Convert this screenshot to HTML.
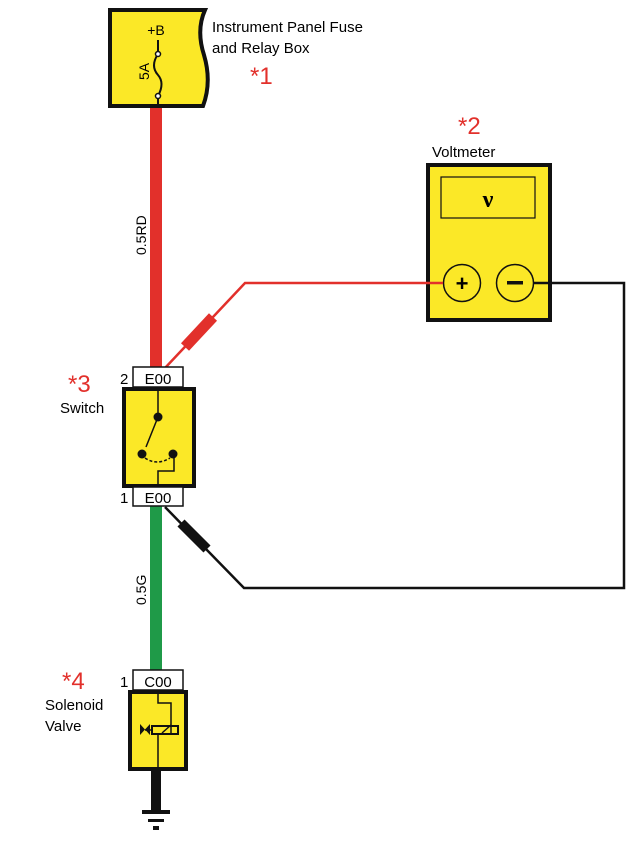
<!DOCTYPE html>
<html><head><style>body{margin:0;background:#fff}svg{display:block}</style></head><body>
<svg width="629" height="845" viewBox="0 0 629 845" font-family="Liberation Sans, Arial, sans-serif">
<!-- wires -->
<rect x="150" y="108" width="12" height="262" fill="#e2302b"/>
<rect x="150" y="505" width="12" height="165" fill="#1f9a48"/>
<rect x="151" y="770" width="10" height="42" fill="#111"/>
<rect x="142" y="810" width="28" height="4" fill="#111"/>
<rect x="148" y="819" width="16" height="3" fill="#111"/>
<rect x="153" y="826" width="6" height="4" fill="#111"/>
<!-- fuse box -->
<path d="M110 10 H205 Q196 30 204 55 Q212 82 203 106 H110 Z" fill="#fbe827" stroke="#111" stroke-width="4"/>
<text x="156" y="35" font-size="14" text-anchor="middle">+B</text>
<line x1="158" y1="40" x2="158" y2="53" stroke="#111" stroke-width="2"/>
<path d="M158 54 Q150 66 158 75 Q165 83 158 96" fill="none" stroke="#111" stroke-width="2"/>
<circle cx="158" cy="54" r="2.5" fill="#fff" stroke="#111" stroke-width="1.5"/>
<circle cx="158" cy="96" r="2.5" fill="#fff" stroke="#111" stroke-width="1.5"/>
<line x1="158" y1="99" x2="158" y2="108" stroke="#111" stroke-width="2"/>
<text transform="translate(149,80) rotate(-90)" font-size="14">5A</text>
<text x="212" y="32" font-size="15">Instrument Panel Fuse</text>
<text x="212" y="53" font-size="15">and Relay Box</text>
<text x="250" y="84" font-size="24" fill="#e2302b">*1</text>
<text transform="translate(146,255) rotate(-90)" font-size="14">0.5RD</text>
<text transform="translate(146,605) rotate(-90)" font-size="14">0.5G</text>
<!-- voltmeter -->
<text x="458" y="134" font-size="24" fill="#e2302b">*2</text>
<text x="432" y="157" font-size="15">Voltmeter</text>
<rect x="428" y="165" width="122" height="155" fill="#fbe827" stroke="#111" stroke-width="4"/>
<rect x="441" y="177" width="94" height="41" fill="none" stroke="#111" stroke-width="1.2"/>
<text x="488" y="207" font-size="24" text-anchor="middle" font-family="Liberation Serif, serif" font-weight="bold">ν</text>
<circle cx="462" cy="283" r="18.5" fill="none" stroke="#111" stroke-width="1.5"/>
<circle cx="515" cy="283" r="18.5" fill="none" stroke="#111" stroke-width="1.5"/>
<text x="462" y="291" font-size="22" font-weight="bold" text-anchor="middle">+</text>
<rect x="507" y="281" width="16" height="3.5" fill="#111"/>
<!-- leads -->
<polyline points="443,283 245,283 165,368" fill="none" stroke="#e2302b" stroke-width="2.5"/>
<line x1="213" y1="317" x2="185" y2="347" stroke="#e2302b" stroke-width="11"/>
<polyline points="534,283 624,283 624,588 244,588 165,507" fill="none" stroke="#111" stroke-width="2.5"/>
<line x1="181" y1="523" x2="207" y2="549" stroke="#111" stroke-width="10"/>
<!-- switch -->
<text x="68" y="392" font-size="24" fill="#e2302b">*3</text>
<text x="60" y="413" font-size="15">Switch</text>
<rect x="133" y="367" width="50" height="20" fill="#fff" stroke="#111" stroke-width="1.5"/>
<text x="158" y="384" font-size="15" text-anchor="middle">E00</text>
<text x="120" y="384" font-size="15">2</text>
<rect x="124" y="389" width="70" height="97" fill="#fbe827" stroke="#111" stroke-width="4"/>
<line x1="158" y1="391" x2="158" y2="417" stroke="#111" stroke-width="1.5"/>
<circle cx="158" cy="417" r="4.5" fill="#111"/>
<line x1="158" y1="417" x2="146" y2="447" stroke="#111" stroke-width="1.5"/>
<circle cx="142" cy="454" r="4.5" fill="#111"/>
<circle cx="173" cy="454" r="4.5" fill="#111"/>
<path d="M145 458 Q157 466 170 458" fill="none" stroke="#111" stroke-width="1.5" stroke-dasharray="3,2"/>
<polyline points="174,454 174,471 158,471 158,486" fill="none" stroke="#111" stroke-width="1.5"/>
<rect x="133" y="487" width="50" height="19" fill="#fff" stroke="#111" stroke-width="1.5"/>
<text x="158" y="503" font-size="15" text-anchor="middle">E00</text>
<text x="120" y="503" font-size="15">1</text>
<!-- solenoid -->
<text x="62" y="689" font-size="24" fill="#e2302b">*4</text>
<text x="45" y="710" font-size="15">Solenoid</text>
<text x="45" y="731" font-size="15">Valve</text>
<rect x="133" y="670" width="50" height="20" fill="#fff" stroke="#111" stroke-width="1.5"/>
<text x="158" y="687" font-size="15" text-anchor="middle">C00</text>
<text x="120" y="687" font-size="15">1</text>
<rect x="130" y="692" width="56" height="77" fill="#fbe827" stroke="#111" stroke-width="4"/>
<polyline points="158,694 158,703 171,703 171,733" fill="none" stroke="#111" stroke-width="1.5"/>
<rect x="152" y="726" width="26" height="8" fill="none" stroke="#111" stroke-width="2"/>
<line x1="162" y1="733" x2="171" y2="725" stroke="#111" stroke-width="1.5"/>
<path d="M140 724 L150 735 L150 724 L140 735 Z" fill="#111"/>
<line x1="145" y1="730" x2="152" y2="730" stroke="#111" stroke-width="1.5"/>
<line x1="158" y1="734" x2="158" y2="767" stroke="#111" stroke-width="1.5"/>
</svg>
</body></html>
